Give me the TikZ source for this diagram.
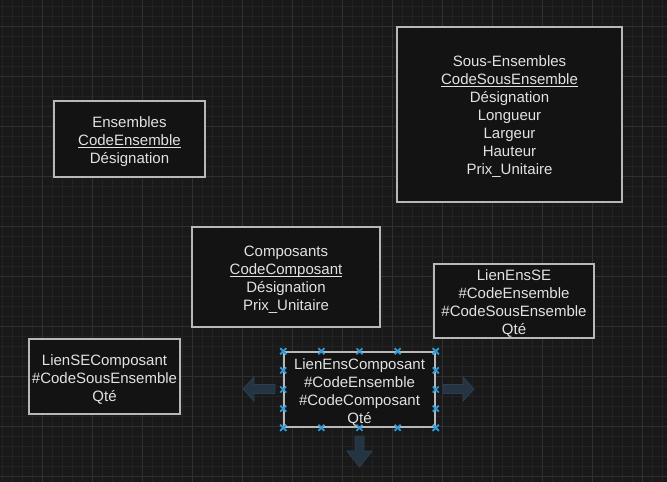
\documentclass[tikz,border=0pt]{standalone}
\usepackage{fontspec}
\setmainfont{Liberation Sans}
\definecolor{bgc}{HTML}{191919}
\definecolor{gridminor}{HTML}{232323}
\definecolor{gridmajor}{HTML}{303030}
\definecolor{boxfill}{HTML}{131313}
\definecolor{boxline}{HTML}{B8B8B8}
\definecolor{txt}{HTML}{E2E2E2}
\definecolor{handle}{HTML}{2E9BDB}
\definecolor{hoverfill}{HTML}{243443}
\definecolor{hoverline}{HTML}{2C3E4F}
\newcommand{\myul}[1]{{\setbox0\hbox{#1}\rlap{\color{txt}\rule[-2.2pt]{\wd0}{0.9pt}}\box0}}
\tikzset{
  entity/.style={draw=boxline, line width=1.5pt, fill=boxfill, inner sep=0pt},
  etext/.style={text=txt, align=center, inner sep=0pt, font=\fontsize{15}{18}\selectfont},
  hover/.style={fill=hoverfill, draw=hoverline, line width=0.8pt},
  hmark/.style={draw=handle, line width=1.7pt}
}
\newcommand{\hx}[1]{\draw[hmark] ($(#1)+(-3,-3)$) -- ($(#1)+(3,3)$) ($(#1)+(-3,3)$) -- ($(#1)+(3,-3)$);}
\usetikzlibrary{calc}
\begin{document}
\begin{tikzpicture}[x=1pt,y=-1pt]
\useasboundingbox (0,0) rectangle (667,482);
\fill[bgc] (0,0) rectangle (667,482);
% grid
\foreach \x in {2,12,...,662} \draw[gridminor, line width=1pt] (\x,0) -- (\x,482);
\foreach \y in {6,16,...,476} \draw[gridminor, line width=1pt] (0,\y) -- (667,\y);
\foreach \x in {42,92,...,642} \draw[gridmajor, line width=1pt] (\x,0) -- (\x,482);
\foreach \y in {26,76,...,476} \draw[gridmajor, line width=1pt] (0,\y) -- (667,\y);

\node[entity, minimum width=151pt, minimum height=76pt] (ens) at (129.5,139) {};
\node[etext] (ensT) at ($(ens.center)+(0,2.5)$)
  {Ensembles\\\myul{CodeEnsemble}\\Désignation};
\node[entity, minimum width=225pt, minimum height=175pt] (sens) at (509.5,114.5) {};
\node[etext] (sensT) at ($(sens.center)+(0,2.5)$)
  {Sous-Ensembles\\\myul{CodeSousEnsemble}\\Désignation\\Longueur\\Largeur\\Hauteur\\Prix\_Unitaire};
\node[entity, minimum width=188pt, minimum height=100pt] (comp) at (286,277) {};
\node[etext] (compT) at ($(comp.center)+(0,2.5)$)
  {Composants\\\myul{CodeComposant}\\Désignation\\Prix\_Unitaire};
\node[entity, minimum width=160pt, minimum height=74pt] (lese) at (514,301) {};
\node[etext] (leseT) at ($(lese.center)+(0,2.5)$)
  {LienEnsSE\\\#CodeEnsemble\\\#CodeSousEnsemble\\Qté};
\node[entity, minimum width=151pt, minimum height=75pt] (lsec) at (104.5,376.5) {};
\node[etext] (lsecT) at ($(lsec.center)+(0,2.5)$)
  {LienSEComposant\\\#CodeSousEnsemble\\Qté};
\node[entity, minimum width=151pt, minimum height=75pt] (lec) at (359.5,389.5) {};
\node[etext] (lecT) at ($(lec.center)+(0,2.5)$)
  {LienEnsComposant\\\#CodeEnsemble\\\#CodeComposant\\Qté};

% selection handles
\foreach \t in {0,0.25,0.5,0.75,1} {
  \hx{$(lec.north west)!\t!(lec.north east)$}
  \hx{$(lec.south west)!\t!(lec.south east)$}
  \hx{$(lec.north west)!\t!(lec.south west)$}
  \hx{$(lec.north east)!\t!(lec.south east)$}
}

% hover arrows
\draw[hover] (243,389) -- (254,377) -- (254,384.5) -- (275,384.5) -- (275,393.5) -- (254,393.5) -- (254,401) -- cycle;
\draw[hover] (474,389) -- (463,377) -- (463,384.5) -- (443,384.5) -- (443,393.5) -- (463,393.5) -- (463,401) -- cycle;
\draw[hover] (359.5,467) -- (347,451) -- (355,451) -- (355,436) -- (364,436) -- (364,451) -- (372,451) -- cycle;
\end{tikzpicture}
\end{document}
